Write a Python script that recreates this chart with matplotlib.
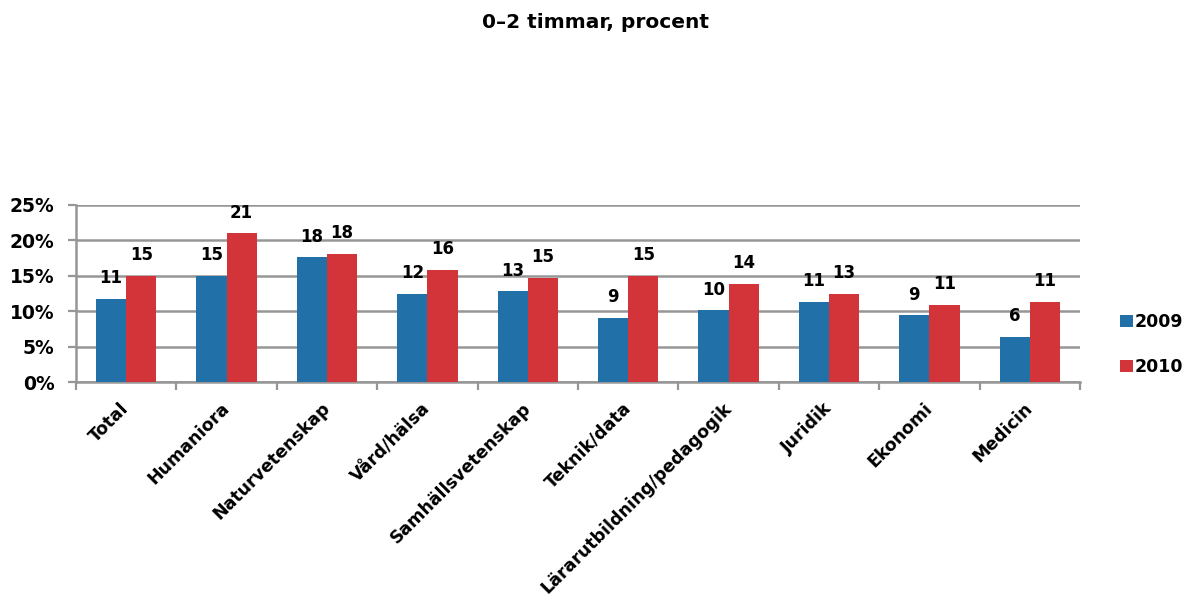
import matplotlib
matplotlib.use("Agg")
import matplotlib.pyplot as plt
import numpy as np

categories = ["Total", "Humaniora", "Naturvetenskap", "Vård/hälsa", "Samhällsvetenskap",
              "Teknik/data", "Lärarutbildning/pedagogik", "Juridik", "Ekonomi", "Medicin"]
values_2009 = [11.7, 15.0, 17.6, 12.4, 12.8, 9.0, 10.1, 11.3, 9.4, 6.4]
values_2010 = [15.0, 21.0, 18.1, 15.8, 14.7, 15.0, 13.9, 12.4, 10.9, 11.3]
labels_2009 = ["11", "15", "18", "12", "13", "9", "10", "11", "9", "6"]
labels_2010 = ["15", "21", "18", "16", "15", "15", "14", "13", "11", "11"]
series_names = ["2009", "2010"]
title = "0–2 timmar, procent"

plt.rcParams['font.family'] = ['DejaVu Sans']
plt.rcParams['font.weight'] = 'bold'

BLUE = "#2170A8"
RED = "#D2343A"
GRID = "#969696"

fig = plt.figure(figsize=(11.86, 5.98), dpi=100)
ax = fig.add_axes([76/1186, (598-382)/598, (1080-76)/1186, (382-205)/598])

x = np.arange(len(categories))
w = 0.30
b1 = ax.bar(x - w/2, values_2009, w, color=BLUE, label=series_names[0], zorder=3)
b2 = ax.bar(x + w/2, values_2010, w, color=RED, label=series_names[1], zorder=3)

for bars, labs in ((b1, labels_2009), (b2, labels_2010)):
    for rect, lab in zip(bars, labs):
        ax.annotate(lab, (rect.get_x() + rect.get_width()/2, rect.get_height()),
                    xytext=(0, 8.5), textcoords="offset points", ha="center", va="bottom",
                    fontsize=12, fontweight="bold")

ax.set_xlim(-0.5, len(categories) - 0.5)
ax.set_ylim(0, 25)
ax.set_yticks(np.arange(0, 26, 5))
ax.set_yticklabels([f"{v}%" for v in range(0, 26, 5)], fontsize=13.5, fontweight="bold")
ax.yaxis.grid(True, color=GRID, linewidth=1.8, zorder=0)
ax.set_axisbelow(True)

ax.set_xticks(x)
ax.set_xticklabels(categories, rotation=45, ha="right", va="center", rotation_mode="anchor",
                   fontsize=12.5, fontweight="bold")
ax.tick_params(axis="x", which="major", length=0, pad=17)
ax.set_xticks(np.arange(-0.5, len(categories)), minor=True)
ax.tick_params(axis="x", which="minor", length=6, color=GRID, width=1.6)
ax.tick_params(axis="y", length=6, color=GRID, width=1.6, pad=9.5)

for s in ["top", "right"]:
    ax.spines[s].set_visible(False)
for s in ["left", "bottom"]:
    ax.spines[s].set_color(GRID)
    ax.spines[s].set_linewidth(1.8)

leg = fig.legend(handles=[b1, b2], labels=series_names, loc="center left",
                 bbox_to_anchor=(1120/1186, 1 - 344.5/598), frameon=False,
                 fontsize=12.5, handlelength=0.75, handleheight=0.75, handletextpad=0.1,
                 labelspacing=1.55, borderpad=0, borderaxespad=0)

fig.text(595.5/1186, 1 - 23/598, title, ha="center", va="center", fontsize=14.5, fontweight="bold")

fig.savefig("out.png", dpi=100)
